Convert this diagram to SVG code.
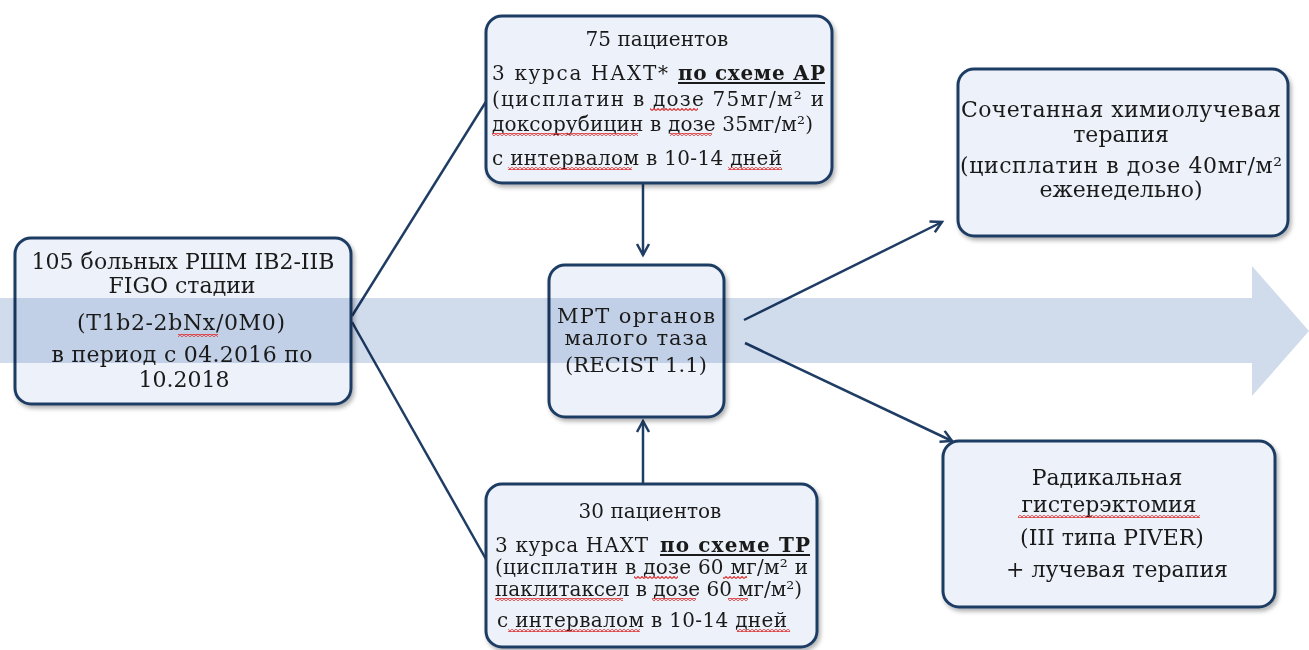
<svg xmlns="http://www.w3.org/2000/svg" width="1309" height="650" viewBox="0 0 1309 650">
<style>
.box{fill:#edf1f9;stroke:#1f3d64;stroke-width:3;filter:url(#sh)}
.t{font-family:"DejaVu Serif","Liberation Serif",serif;fill:#1a1a1a}
.s19{font-size:20px}
.s20{font-size:21px}
.s21{font-size:22px}
.c{text-anchor:middle}
.b{font-weight:bold}
.ln{stroke:#1f3d64;stroke-width:2.5;fill:none}
.sq{fill:url(#wave)}
</style>
<defs>
<filter id="sh" x="-10%" y="-10%" width="120%" height="125%">
<feDropShadow dx="2" dy="3" stdDeviation="2" flood-color="#000" flood-opacity="0.3"/>
</filter>
<marker id="ah" markerWidth="16" markerHeight="16" refX="13" refY="8" orient="auto" markerUnits="userSpaceOnUse">
<path d="M2,2 L13,8 L2,14" fill="none" stroke="#1f3d64" stroke-width="2.5"/>
</marker>
<pattern id="wave" width="4" height="3" patternUnits="userSpaceOnUse">
<path d="M0,2.5 L2,0.5 L4,2.5" fill="none" stroke="#e03030" stroke-width="1.1"/>
</pattern>
</defs>

<g id="connectors">
<line class="ln" x1="352" y1="316" x2="487" y2="100"/>
<line class="ln" x1="352" y1="322" x2="487" y2="561"/>
<line class="ln" x1="643" y1="184" x2="643" y2="255" marker-end="url(#ah)"/>
<line class="ln" x1="643" y1="484" x2="643" y2="421" marker-end="url(#ah)"/>
<line class="ln" x1="744" y1="320" x2="942" y2="222" marker-end="url(#ah)"/>
<line class="ln" x1="745" y1="343" x2="952" y2="441" marker-end="url(#ah)"/>
</g>

<g id="node-left">
<rect class="box" x="15" y="238" width="336" height="166" rx="16"/>
</g>
<g id="node-top">
<rect class="box" x="486" y="16" width="346" height="167" rx="16"/>
</g>
<g id="node-center">
<rect class="box" x="549" y="265" width="175" height="152" rx="16"/>
</g>
<g id="node-bottom">
<rect class="box" x="486" y="484" width="331" height="163" rx="16"/>
</g>
<g id="node-rtop">
<rect class="box" x="958" y="69" width="330" height="167" rx="16"/>
</g>
<g id="node-rbot">
<rect class="box" x="943" y="441" width="332" height="166" rx="16"/>
</g>

<g id="band" style="mix-blend-mode:multiply">
<polygon points="0,298 1252,298 1252,266 1309,331 1252,396 1252,363 0,363" fill="#d0dcec"/>
</g>

<g id="texts-left">
<text class="t s21 c" x="183" y="269" textLength="303">105 больных РШМ IB2-IIB</text>
<text class="t s21 c" x="182" y="293">FIGO стадии</text>
<text class="t s21 c" x="181" y="330" textLength="208">(T1b2-2bNx/0M0)</text>
<text class="t s21 c" x="182" y="362" textLength="261">в период с 04.2016 по</text>
<text class="t s21 c" x="184" y="387">10.2018</text>
<rect class="sq" x="178" y="334" width="40" height="3"/>
</g>

<g id="texts-top">
<text class="t s19 c" x="657" y="46">75 пациентов</text>
<text class="t s19" x="492" y="80" textLength="176">3 курса  НАХТ*</text>
<text class="t s19 b" x="678" y="80" textLength="147">по схеме АР</text>
<rect x="678" y="82" width="147" height="2" fill="#1a1a1a"/>
<text class="t s19" x="492" y="106" textLength="332">(цисплатин в дозе 75мг/м² и</text>
<text class="t s19" x="492" y="131" textLength="321">доксорубицин в дозе 35мг/м²)</text>
<text class="t s19" x="492" y="165" textLength="290">с интервалом в 10-14 дней</text>
<rect class="sq" x="650" y="108" width="48" height="3"/>
<rect class="sq" x="492" y="133" width="146" height="3"/>
<rect class="sq" x="670" y="133" width="42" height="3"/>
<rect class="sq" x="508" y="167" width="124" height="3"/>
<rect class="sq" x="728" y="167" width="54" height="3"/>
</g>

<g id="texts-center">
<text class="t s20 c" x="636" y="323" textLength="158">МРТ  органов</text>
<text class="t s20 c" x="636" y="345" textLength="143">малого таза</text>
<text class="t s20 c" x="636" y="372" textLength="142">(RECIST 1.1)</text>
</g>

<g id="texts-bottom">
<text class="t s19 c" x="650" y="518">30 пациентов</text>
<text class="t s19" x="495" y="552" textLength="153">3 курса НАХТ</text>
<text class="t s19 b" x="660" y="552" textLength="150">по схеме ТР</text>
<rect x="660" y="554" width="150" height="2" fill="#1a1a1a"/>
<text class="t s19" x="495" y="574" textLength="313">(цисплатин в дозе 60 мг/м² и</text>
<text class="t s19" x="495" y="596" textLength="307">паклитаксел в дозе 60 мг/м²)</text>
<text class="t s19" x="497" y="627" textLength="290">с интервалом в 10-14 дней</text>
<rect class="sq" x="634" y="576" width="44" height="3"/>
<rect class="sq" x="723" y="576" width="24" height="3"/>
<rect class="sq" x="495" y="598" width="128" height="3"/>
<rect class="sq" x="652" y="598" width="44" height="3"/>
<rect class="sq" x="728" y="598" width="20" height="3"/>
<rect class="sq" x="508" y="629" width="132" height="3"/>
<rect class="sq" x="737" y="629" width="53" height="3"/>
</g>

<g id="texts-rtop">
<text class="t s21 c" x="1121" y="117" textLength="320">Сочетанная химиолучевая</text>
<text class="t s21 c" x="1121" y="142">терапия</text>
<text class="t s21 c" x="1121" y="173" textLength="322">(цисплатин в дозе 40мг/м²</text>
<text class="t s21 c" x="1121" y="197">еженедельно)</text>
</g>

<g id="texts-rbot">
<text class="t s21 c" x="1107" y="485">Радикальная</text>
<text class="t s21 c" x="1109" y="512">гистерэктомия</text>
<text class="t s21 c" x="1112" y="545">(III типа PIVER)</text>
<text class="t s21 c" x="1117" y="577">+ лучевая терапия</text>
<rect class="sq" x="1018" y="515" width="182" height="3"/>
</g>
</svg>
